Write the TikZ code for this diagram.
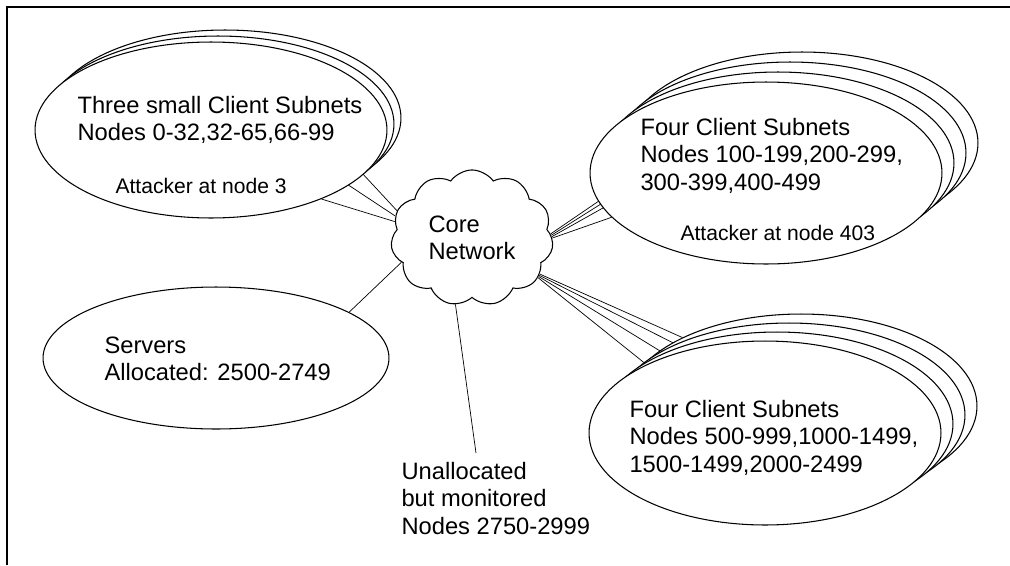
\documentclass[tikz,border=0pt]{standalone}
\usepackage{fontspec}
\setmainfont{Liberation Sans}
\usetikzlibrary{shapes.geometric,shapes.symbols,backgrounds}
\begin{document}
\begin{tikzpicture}[
		x = 0.02cm, y = -0.02cm,
		line width = 0.6pt,
		subnet/.style = {
			draw = black,
			fill = white,
			ellipse,
			inner sep = 0pt,
			minimum width = 7.04cm,
			minimum height = #1
		},
		subnet/.default = 3.64cm,
		cloudy/.style = {
			draw = black,
			fill = white,
			cloud,
			cloud puffs = 11,
			cloud puff arc = 110,
			inner sep = 0pt,
			minimum width = 3.25cm,
			minimum height = 2.5cm,
			align = left,
			font = \fontsize{13.5}{15.5}\selectfont
		},
		body/.style = {
			anchor = north west,
			inner sep = 0pt,
			align = left,
			font = \fontsize{13.5}{15.5}\selectfont
		},
		attacker/.style = {
			anchor = north west,
			inner sep = 0pt,
			font = \fontsize{12}{14}\selectfont
		}]
	\useasboundingbox (0, 0) rectangle (1010, 565);
	% frame
	\draw[line width = 0.9pt] (7, 565) -- (7, 7) -- (1010, 7);
	% three small client subnets
	\node[subnet = 3.52cm] (tl3) at (225, 118) {};
	\node[subnet = 3.52cm] (tl2) at (218, 124) {};
	\node[subnet = 3.52cm] (tl1) at (211, 130) {};
	% four client subnets, top
	\node[subnet] (tr4) at (802, 143) {};
	\node[subnet] (tr3) at (790, 153) {};
	\node[subnet] (tr2) at (778, 163) {};
	\node[subnet] (tr1) at (766, 173) {};
	% four client subnets, bottom
	\node[subnet = 3.68cm] (br4) at (801, 406) {};
	\node[subnet = 3.68cm] (br3) at (789, 415) {};
	\node[subnet = 3.68cm] (br2) at (777, 424) {};
	\node[subnet = 3.68cm] (br1) at (765, 433) {};
	% servers and core
	\node[subnet = 2.84cm, minimum width = 6.92cm] (srv) at (216, 358) {};
	\node[cloudy] (core) at (472, 238) {Core\\Network};
	\coordinate (tap) at (476, 453);
	% texts
	\node[body] (tltext) at (77, 96) {Three small Client Subnets\\Nodes 0-32,32-65,66-99};
	\node[attacker] (tlatt) at (115, 178) {Attacker at node 3};
	\node[body] (trtext) at (640, 118) {Four Client Subnets\\Nodes 100-199,200-299,\\300-399,400-499};
	\node[attacker] (tratt) at (680, 225) {Attacker at node 403};
	\node[body] (srvtext) at (104, 336) {Servers\\Allocated: 2500-2749};
	\node[body] (brtext) at (629, 400) {Four Client Subnets\\Nodes 500-999,1000-1499,\\1500-1499,2000-2499};
	\node[body] (unalloc) at (401, 462) {Unallocated\\but monitored\\Nodes 2750-2999};
	% links
	\begin{pgfonlayer}{background}
		\draw (core.168) -- (tl1.-32);
		\draw (core.164) -- (tl2.-25);
		\draw (core.160) -- (tl3.-22);
		\draw (core.0) -- (tr1.196);
		\draw (core.1) -- (tr2.193);
		\draw (core.2) -- (tr3.192);
		\draw (core.3) -- (tr4.191);
		\draw (core.-31) -- (br1.150);
		\draw (core.-30) -- (br2.148);
		\draw (core.-29) -- (br3.148);
		\draw (core.-28) -- (br4.150);
		\draw (core.199) -- (srv.19);
		\draw (core.256) -- (tap);
	\end{pgfonlayer}
\end{tikzpicture}
\end{document}
